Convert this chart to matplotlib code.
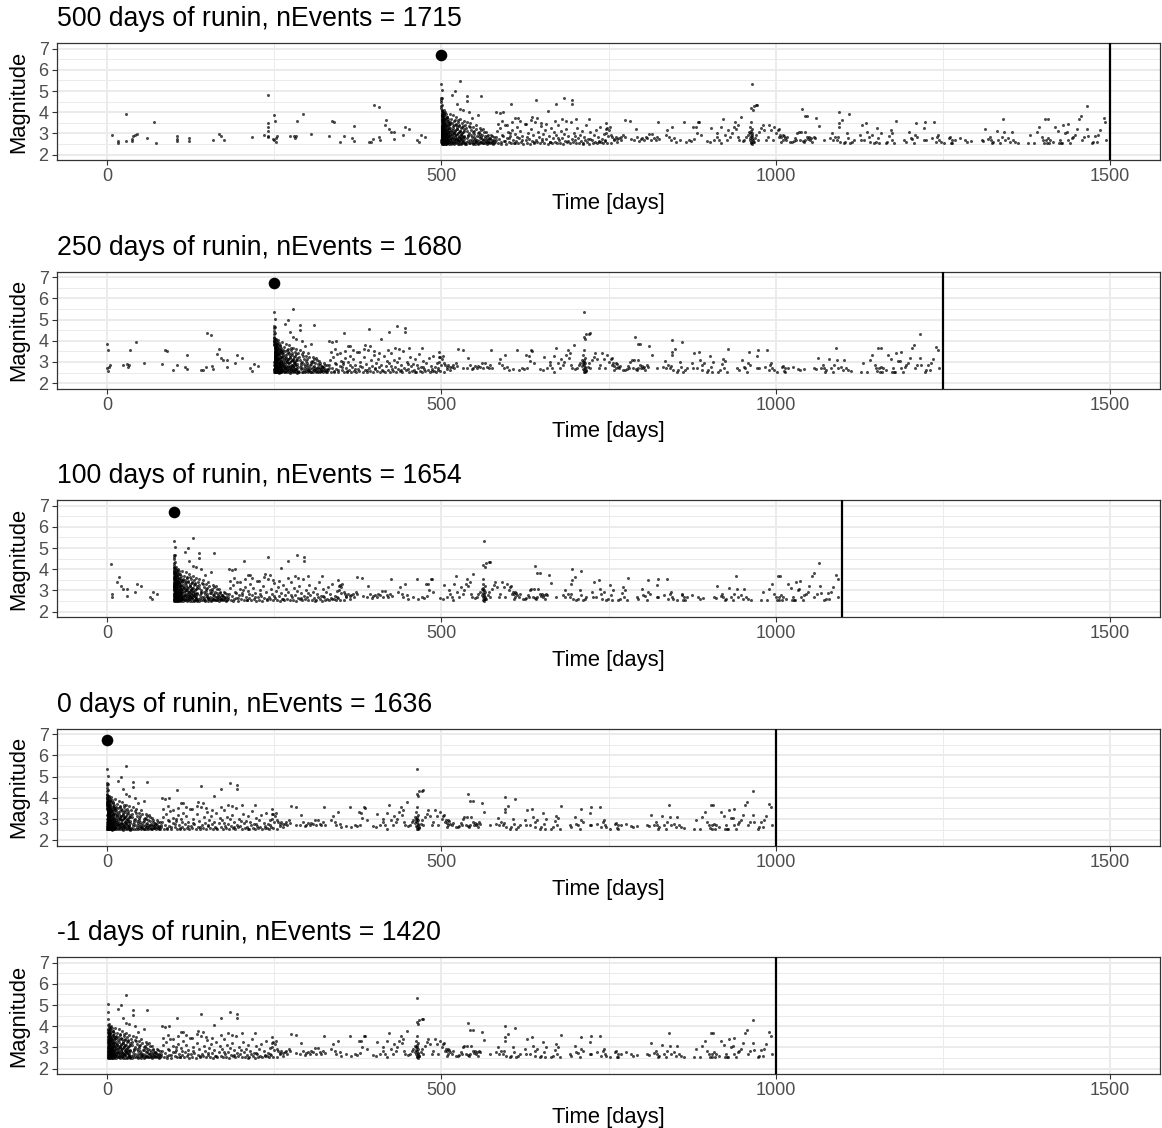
import matplotlib
matplotlib.use("Agg")
import matplotlib.pyplot as plt
import numpy as np

plt.rcParams['font.family'] = ['Liberation Sans', 'DejaVu Sans']

# ---------------- data ----------------
runin_days = [500, 250, 100, 0, -1]
n_events = [1715, 1680, 1654, 1636, 1420]
mainshock_mag = 6.7
window_days = 1000

# background events before the mainshock: (days relative to mainshock, magnitude)
background = [
    (-493, 2.92), (-484, 2.66), (-484, 2.57), (-472, 3.94), (-472, 2.66), (-463, 2.66), (-463, 2.74), (-461, 2.88),
    (-459, 2.92), (-456, 2.97), (-440, 2.80), (-430, 3.55), (-427, 2.57), (-395, 2.86), (-395, 2.74), (-395, 2.65),
    (-378, 2.77), (-378, 2.66), (-342, 2.71), (-333, 2.97), (-330, 2.86), (-325, 2.71), (-284, 2.85), (-265, 2.94),
    (-259, 4.83), (-259, 3.51), (-259, 3.32), (-259, 3.12), (-259, 2.89), (-259, 2.82), (-250, 3.86), (-249, 3.58),
    (-252, 2.74), (-250, 2.71), (-248, 2.58), (-247, 2.77), (-246, 2.86), (-227, 2.86), (-221, 2.89), (-219, 2.77),
    (-217, 2.86), (-216, 3.58), (-207, 3.92), (-195, 2.97), (-168, 2.89), (-164, 3.58), (-160, 3.52), (-152, 2.62),
    (-145, 2.88), (-134, 2.77), (-130, 2.66), (-130, 3.35), (-109, 2.62), (-106, 2.62), (-102, 2.74), (-93, 2.82),
    (-92, 2.69), (-101, 4.35), (-94, 4.25), (-83, 3.62), (-85, 3.38), (-79, 3.20), (-76, 3.08), (-71, 3.08),
    (-71, 2.74), (-58, 2.94), (-55, 3.32), (-49, 3.20), (-36, 2.71), (-33, 2.58), (-31, 2.92), (-25, 2.82),
]

# aftershocks: (days after mainshock, magnitude)
after_first_day = [
    (0.02, 5.34), (0.05, 4.69), (0.08, 4.60), (0.11, 4.48), (0.14, 4.30), (0.17, 4.18), (0.20, 4.12), (0.23, 4.05),
    (0.26, 3.98), (0.29, 3.93), (0.32, 3.87), (0.35, 3.81), (0.38, 3.76), (0.41, 3.70), (0.44, 3.64), (0.47, 3.59),
    (0.50, 3.53), (0.53, 3.48), (0.56, 3.42), (0.59, 3.37), (0.62, 3.31), (0.65, 3.26), (0.68, 3.20), (0.71, 3.15),
    (0.74, 3.09), (0.77, 3.04), (0.80, 2.98), (0.83, 2.93), (0.86, 2.87), (0.89, 2.82), (0.92, 2.76), (0.95, 2.71),
    (0.98, 2.65), (0.10, 2.60), (0.30, 2.55), (0.50, 2.51), (0.70, 2.58), (0.90, 2.63), (0.15, 2.68), (0.45, 2.74),
    (0.75, 2.79), (0.25, 2.85), (0.55, 2.90), (0.85, 2.96), (0.35, 3.02), (0.65, 3.07), (0.95, 3.12), (0.40, 3.18),
    (0.60, 3.24), (0.80, 3.29),
]
after_days_1_3 = [
    (1.1, 5.03), (1.3, 4.65), (1.6, 4.35), (1.2, 4.08), (2.4, 3.97), (1.5, 3.88), (2.8, 3.79), (1.9, 3.71), (1.4, 3.66), (2.2, 3.58),
    (1.7, 3.52), (2.6, 3.45), (1.1, 3.41), (2.0, 3.36), (2.9, 3.30), (1.3, 3.27), (2.5, 3.21), (1.8, 3.17), (2.3, 3.12), (1.2, 3.08),
    (2.7, 3.03), (1.6, 2.99), (2.1, 2.95), (1.4, 2.91), (2.8, 2.88), (1.9, 2.84), (2.4, 2.80), (1.0, 2.77), (2.6, 2.73), (1.5, 2.70),
    (2.2, 2.67), (1.7, 2.63), (2.9, 2.60), (1.3, 2.57), (2.0, 2.54), (2.5, 2.51), (1.8, 2.52), (1.1, 2.56), (2.3, 2.62), (1.6, 2.69),
    (2.7, 2.75), (1.2, 2.83), (2.1, 2.92), (1.9, 3.01), (2.4, 3.14), (1.5, 3.24), (2.8, 3.38), (1.7, 3.49), (2.2, 3.62), (1.4, 3.83),
]
after_days_3_12 = [
    (3.2, 4.10), (5.5, 4.02), (3.8, 3.95), (7.1, 3.90), (4.4, 3.84), (9.0, 3.80), (6.2, 3.74), (3.5, 3.70), (10.5, 3.66), (5.0, 3.62),
    (8.2, 3.58), (4.1, 3.55), (11.4, 3.51), (6.8, 3.48), (3.9, 3.44), (9.7, 3.41), (5.3, 3.38), (7.6, 3.35), (4.7, 3.31), (10.9, 3.28),
    (3.3, 3.26), (8.8, 3.23), (6.0, 3.20), (11.8, 3.17), (4.9, 3.14), (7.3, 3.12), (3.6, 3.09), (9.4, 3.06), (5.8, 3.03), (10.2, 3.01),
    (4.3, 2.98), (8.0, 2.96), (6.5, 2.93), (11.1, 2.91), (3.1, 2.89), (7.9, 2.87), (5.1, 2.84), (9.9, 2.82), (4.6, 2.80), (6.9, 2.78),
    (11.6, 2.76), (3.7, 2.74), (8.5, 2.72), (5.6, 2.70), (10.0, 2.68), (4.0, 2.66), (7.4, 2.64), (9.2, 2.62), (6.3, 2.60), (11.9, 2.58),
    (3.4, 2.56), (8.7, 2.55), (5.2, 2.53), (10.7, 2.52), (4.5, 2.51), (7.0, 2.50), (6.6, 2.51), (9.6, 2.53), (3.0, 2.54), (8.3, 2.57),
    (5.9, 2.59), (11.3, 2.61), (4.2, 2.63), (7.7, 2.67), (10.4, 2.69), (6.1, 2.71), (3.8, 2.75), (9.1, 2.79), (5.4, 2.83), (8.9, 2.86),
    (11.0, 2.90), (4.8, 2.94), (7.2, 2.97), (6.7, 3.00), (10.3, 3.05), (3.2, 3.10), (8.4, 3.15), (5.7, 3.19), (9.5, 3.25), (4.6, 3.30),
    (7.8, 3.36), (11.7, 3.40), (6.4, 3.46), (3.9, 3.53), (9.3, 3.60), (5.0, 3.68), (8.1, 3.76), (4.3, 3.86), (10.8, 3.50), (6.0, 2.53),
]
after_days_12_35 = [
    (16, 4.80), (21, 5.00), (28, 5.49), (23, 4.40), (28, 4.17), (33, 4.10),
    (12.3, 3.92), (14.8, 3.70), (17.5, 3.85), (19.9, 3.62), (22.6, 3.78), (25.1, 3.55), (27.8, 3.68), (30.4, 3.48), (33.2, 3.60), (13.6, 3.44),
    (16.1, 3.50), (18.7, 3.38), (21.3, 3.47), (24.0, 3.31), (26.5, 3.40), (29.2, 3.25), (31.9, 3.36), (34.5, 3.20), (12.9, 3.28), (15.4, 3.18),
    (18.0, 3.24), (20.6, 3.12), (23.3, 3.19), (25.8, 3.08), (28.5, 3.14), (31.1, 3.02), (33.8, 3.10), (13.2, 3.06), (15.9, 2.99), (18.5, 3.04),
    (21.0, 2.93), (23.7, 2.98), (26.2, 2.88), (28.9, 2.95), (31.6, 2.84), (34.2, 2.90), (12.6, 2.86), (15.1, 2.80), (17.8, 2.83), (20.3, 2.75),
    (22.9, 2.79), (25.5, 2.71), (28.1, 2.77), (30.7, 2.68), (33.4, 2.73), (14.0, 2.66), (16.6, 2.70), (19.2, 2.62), (21.8, 2.67), (24.4, 2.59),
    (27.0, 2.64), (29.6, 2.56), (32.3, 2.61), (34.9, 2.55), (13.9, 2.52), (16.4, 2.55), (19.0, 2.51), (21.6, 2.53), (24.2, 2.50), (26.8, 2.52),
    (29.4, 2.51), (32.0, 2.53), (34.7, 2.50), (12.1, 2.58), (14.5, 2.61), (17.1, 2.57), (19.6, 2.65), (22.2, 2.60), (24.8, 2.69), (27.4, 2.63),
    (30.0, 2.72), (32.7, 2.66), (13.4, 2.74), (16.0, 2.78), (18.3, 2.72), (20.9, 2.82), (23.5, 2.76), (26.0, 2.85), (28.7, 2.80), (31.3, 2.89),
    (33.9, 2.83), (12.7, 2.97), (15.6, 2.92), (18.9, 3.00), (22.4, 2.95), (25.3, 3.03), (29.0, 2.98), (32.5, 3.07), (14.3, 3.13), (17.3, 3.09),
    (20.1, 3.16), (23.9, 3.22), (27.3, 3.11), (30.9, 3.29), (16.8, 3.33), (21.5, 3.42), (26.9, 3.34), (13.0, 3.55), (19.4, 3.58), (24.6, 3.64),
]
after_days_35_80 = [
    (38, 4.75), (38, 4.52), (41, 4.00), (55, 3.85), (60, 4.75),
    (35.5, 3.42), (37.9, 3.10), (40.3, 2.86), (42.8, 3.30), (45.2, 2.62), (47.6, 3.05), (50.1, 2.75), (52.5, 3.22), (55.0, 2.55), (57.4, 2.98),
    (59.8, 3.15), (62.3, 2.68), (64.7, 2.90), (67.1, 3.05), (69.6, 2.58), (72.0, 2.80), (74.4, 2.95), (76.9, 2.64), (79.3, 2.85), (36.2, 2.58),
    (38.6, 2.78), (41.1, 3.01), (43.5, 2.54), (45.9, 2.82), (48.4, 2.96), (50.8, 2.52), (53.2, 2.70), (55.7, 2.90), (58.1, 2.53), (60.5, 2.73),
    (63.0, 2.56), (65.4, 2.77), (67.8, 2.52), (70.3, 2.69), (72.7, 2.53), (75.1, 2.71), (77.6, 2.51), (36.9, 3.25), (39.3, 2.66), (41.8, 3.36),
    (44.2, 2.92), (46.6, 2.51), (49.1, 3.12), (51.5, 2.64), (53.9, 2.88), (56.4, 3.06), (58.8, 2.62), (61.2, 2.94), (63.7, 2.71), (66.1, 2.59),
    (68.5, 2.88), (71.0, 2.61), (73.4, 2.74), (75.8, 2.57), (78.3, 2.67), (37.4, 2.52), (39.8, 2.95), (42.2, 2.70), (44.7, 3.16), (47.1, 2.57),
    (49.5, 2.84), (52.0, 2.58), (54.4, 3.02), (56.8, 2.66), (59.3, 2.82), (61.7, 2.54), (64.1, 3.08), (66.6, 2.65), (69.0, 2.95), (71.4, 2.78),
    (74.0, 2.60), (76.3, 2.88), (78.8, 2.55), (38.1, 3.55), (43.0, 3.48), (47.9, 3.30), (51.2, 3.40), (57.9, 3.25), (62.8, 3.20), (46.0, 3.74),
    (40.8, 2.55), (45.5, 2.70), (50.4, 2.60), (54.9, 2.52), (60.0, 2.60), (65.0, 2.53), (70.0, 2.57), (48.8, 2.68), (58.5, 2.77), (68.0, 2.73),
]
after_days_80_250 = [
    (82, 4.00), (87, 3.95), (92, 4.00), (104, 4.38), (110, 3.75), (114, 3.74), (136, 3.78), (141, 4.56), (143, 3.75), (160, 4.07),
    (171, 4.40), (181, 3.68), (184, 4.69), (195, 4.60), (195, 4.40), (201, 3.66), (221, 3.68), (246, 3.48),
    (80.5, 2.62), (82.0, 2.85), (83.7, 3.10), (85.1, 2.55), (86.8, 2.72), (88.2, 3.25), (89.9, 2.58), (91.3, 2.95), (93.0, 2.66), (94.6, 3.38),
    (96.1, 2.52), (97.8, 2.80), (99.2, 3.05), (100.9, 2.61), (102.3, 2.90), (104.0, 2.54), (105.5, 3.18), (107.1, 2.70), (108.6, 2.57), (110.3, 2.98),
    (111.8, 2.63), (113.4, 3.30), (115.0, 2.53), (116.5, 2.78), (118.1, 3.12), (119.7, 2.59), (121.2, 2.88), (122.8, 2.51), (124.4, 3.45), (125.9, 2.68),
    (127.5, 2.56), (129.0, 3.02), (130.6, 2.74), (132.2, 2.52), (133.7, 3.22), (135.3, 2.64), (136.9, 2.92), (138.4, 2.55), (140.0, 3.55), (141.6, 2.71),
    (143.1, 2.58), (144.7, 3.08), (146.3, 2.82), (147.8, 2.53), (149.4, 3.35), (151.0, 2.66), (152.5, 2.96), (154.1, 2.57), (155.6, 3.15), (157.2, 2.75),
    (158.8, 2.52), (160.3, 2.88), (161.9, 2.61), (163.5, 3.28), (165.0, 2.55), (166.6, 2.80), (168.2, 3.05), (169.7, 2.60), (171.3, 2.94), (172.9, 2.53),
    (174.4, 3.42), (176.0, 2.69), (177.6, 2.56), (179.1, 3.10), (180.7, 2.77), (182.3, 2.52), (183.8, 2.99), (185.4, 2.65), (187.0, 3.20), (188.5, 2.58),
    (190.1, 2.86), (191.7, 2.54), (193.2, 3.52), (194.8, 2.72), (196.4, 2.60), (197.9, 3.00), (199.5, 2.67), (201.1, 2.53), (202.6, 3.25), (204.2, 2.79),
    (205.8, 2.57), (207.3, 2.91), (208.9, 2.63), (210.5, 3.14), (212.0, 2.55), (213.6, 2.84), (215.2, 2.70), (216.7, 3.38), (218.3, 2.59), (219.9, 2.76),
    (221.4, 2.52), (223.0, 3.06), (224.6, 2.68), (226.1, 2.56), (227.7, 2.95), (229.3, 2.62), (230.8, 3.18), (232.4, 2.54), (234.0, 2.82), (235.5, 2.66),
    (237.1, 3.30), (238.7, 2.58), (240.2, 2.74), (241.8, 2.53), (243.4, 2.97), (245.0, 2.64), (246.5, 3.22), (248.1, 2.57), (249.7, 2.86), (84.3, 3.45),
    (90.5, 3.60), (98.4, 3.40), (106.2, 3.52), (117.3, 3.58), (126.7, 3.47), (134.5, 3.62), (148.6, 3.50), (156.4, 3.44), (170.5, 3.57), (186.2, 3.60),
    (81.2, 2.70), (88.9, 2.52), (95.3, 2.64), (101.6, 2.77), (109.4, 2.55), (120.5, 2.69), (128.3, 2.83), (139.2, 2.61), (150.2, 2.73), (162.7, 2.58),
    (175.2, 2.81), (189.3, 2.63), (200.3, 2.90), (211.2, 2.52), (222.2, 2.75), (236.3, 2.59), (244.2, 2.70), (92.2, 2.90), (103.1, 3.00), (112.6, 2.85),
]
after_days_250_510 = [
    (247, 3.01), (248, 3.24), (250.5, 3.16), (252, 3.29), (254, 2.93), (255.5, 2.85), (258, 2.75), (260.5, 2.85), (263, 2.75), (265.5, 2.78),
    (268, 2.85), (272, 2.93), (274, 2.82), (254, 2.54), (258, 2.67), (263, 2.62), (269, 2.70), (274.5, 3.63), (282, 3.58), (283, 2.73),
    (288, 2.70), (290.5, 3.20), (293, 2.85), (295.5, 2.65), (298, 2.73), (300.5, 2.80), (303, 2.70), (305.5, 2.82), (308, 2.78), (310.5, 2.96),
    (313, 2.70), (315.5, 2.96), (318, 2.78), (320.5, 2.70), (323, 2.85), (325.5, 2.73), (324, 3.55), (335.5, 2.93), (338, 3.16), (340.5, 2.85),
    (343, 2.70), (345.5, 3.32), (348, 2.78), (350.5, 2.62), (357, 2.67), (363, 3.55), (365.5, 2.62), (370.5, 2.70), (374, 2.65), (378, 2.73),
    (377, 3.32), (380.5, 3.29), (384, 3.55), (385.5, 3.52), (382, 3.04), (388, 2.93), (398, 2.65), (402, 2.62), (404, 3.24), (408, 2.70),
    (412, 3.01), (413, 2.85), (415.5, 2.70), (418, 2.54), (419, 3.29), (422, 3.68), (424, 2.93), (427, 2.70), (429, 3.16), (432, 2.85),
    (434, 3.01), (437, 3.32), (439, 3.55), (440.5, 3.20), (443, 3.40), (444, 2.85), (445.5, 2.70), (448, 3.79), (450.5, 2.65), (453, 2.70),
    (455.5, 2.85), (458, 2.93), (460.5, 3.09), (462, 3.32), (463, 3.55), (464, 5.34), (465.5, 4.10), (467, 4.30), (470.5, 4.33), (472, 4.35),
    (463, 4.19), (462, 3.01), (464, 2.85), (465.5, 2.70), (467, 2.62), (469, 2.78), (470.5, 2.93), (473, 2.70), (475.5, 3.09), (478, 3.24),
    (480.5, 3.40), (483, 3.16), (485.5, 2.70), (488, 2.85), (490.5, 3.40), (493, 3.16), (495.5, 2.70), (498, 3.32), (500.5, 3.01), (503, 3.16),
    (505.5, 2.85), (508, 2.62), (510.5, 2.93), (463, 2.55), (463.5, 2.60), (464.5, 2.75), (462.5, 2.90), (464, 3.00), (463, 3.10), (465, 3.20),
    (464.5, 2.52), (462, 2.68), (466, 2.58), (461, 2.80), (465, 2.95),
]
after_days_510_765 = [
    (504.5, 3.20), (507, 2.93), (508.5, 2.82), (510.5, 2.70), (512, 2.89), (513.5, 2.78), (515.5, 2.70), (517, 2.82), (522, 2.62), (524.5, 2.62),
    (527, 2.65), (529.5, 2.80), (530.5, 2.70), (532, 3.01), (534.5, 3.09), (537, 2.70), (538.5, 3.09), (540.5, 2.65), (542, 2.62), (543.5, 2.70),
    (544.5, 3.09), (547, 2.85), (548.5, 2.73), (550.5, 2.82), (552, 2.70), (553.5, 2.78), (554.5, 2.62), (557, 2.85), (558.5, 2.78), (539.5, 4.17),
    (543.5, 3.83), (547, 3.83), (561, 3.75), (564.5, 3.35), (572, 2.70), (582, 2.78), (584.5, 3.04), (585.5, 2.70), (589.5, 2.85), (592, 2.70),
    (593.5, 2.82), (594.5, 3.32), (595.5, 3.48), (595.5, 4.02), (597, 2.62), (599.5, 3.63), (602, 2.54), (604.5, 2.62), (607, 3.01), (608.5, 2.78),
    (609.5, 3.94), (612, 2.54), (614.5, 2.62), (617, 2.70), (625.5, 2.93), (627, 2.70), (628.5, 3.40), (632, 2.70), (635.5, 3.48), (637, 3.09),
    (639.5, 2.85), (640.5, 2.62), (643.5, 2.93), (647, 2.54), (649.5, 2.62), (652, 3.27), (653.5, 2.78), (654.5, 2.54), (657, 3.01), (664.5, 2.54),
    (667, 2.62), (669.5, 2.89), (672, 3.16), (673.5, 2.70), (674.5, 3.04), (677, 2.54), (679.5, 3.60), (692, 2.70), (694.5, 2.62), (699.5, 3.09),
    (702, 2.78), (704.5, 2.73), (707, 2.54), (708.5, 2.93), (709.5, 3.48), (712, 2.85), (722, 3.27), (723.5, 3.55), (722, 2.70), (724.5, 2.70),
    (733.5, 2.78), (737, 3.55), (739.5, 2.62), (742, 2.85), (743.5, 2.93), (744.5, 2.70), (747, 2.62), (752, 2.54), (759.5, 2.78), (764.5, 2.54),
    (763.5, 2.70),
]
after_days_765_1000 = [
    (760.5, 2.82), (762, 2.57), (768, 2.70), (775.5, 2.78), (784, 2.67), (787, 2.62), (792, 2.65), (808, 2.70), (810.5, 2.65), (813, 3.20),
    (818, 2.73), (820.5, 2.85), (822, 2.70), (824, 2.54), (825.5, 2.62), (830.5, 3.12), (833, 2.70), (835.5, 2.54), (838, 2.85), (840.5, 3.66),
    (842, 3.09), (843, 2.70), (848, 2.78), (850.5, 2.62), (853, 3.09), (855.5, 2.70), (858, 2.62), (863, 2.57), (878, 2.54), (880.5, 2.93),
    (887, 2.54), (890.5, 3.09), (894, 3.32), (898, 2.85), (900.5, 2.70), (902, 2.57), (903, 3.68), (904.5, 2.70), (905.5, 2.54), (907, 3.68),
    (908, 2.78), (909, 2.54), (910.5, 2.70), (915.5, 2.62), (918, 3.32), (923, 3.12), (924, 2.54), (925.5, 2.70), (927, 2.54), (929, 2.54),
    (930.5, 3.41), (933, 3.04), (935.5, 3.06), (937, 3.46), (938, 2.70), (940.5, 2.54), (943, 2.78), (945.5, 2.85), (948, 2.93), (950.5, 3.20),
    (954, 3.68), (957, 3.81), (958, 2.70), (962, 2.85), (965.5, 4.30), (966.5, 3.20), (968, 2.88), (973, 2.54), (975.5, 2.62), (978, 2.88),
    (980.5, 2.62), (983, 2.93), (985.5, 3.16), (990.5, 3.71), (993, 3.55), (994, 2.70),
]

x_ticks = [0, 500, 1000, 1500]
x_minor = [250, 750, 1250]
y_ticks = [2, 3, 4, 5, 6, 7]
y_minor = [2.5, 3.5, 4.5, 5.5, 6.5]

# ---------------- assemble ----------------
aftershocks = (after_first_day + after_days_1_3 + after_days_3_12 + after_days_12_35 + after_days_35_80
               + after_days_80_250 + after_days_250_510 + after_days_510_765 + after_days_765_1000)
as_t = np.array([p[0] for p in aftershocks], dtype=float)
as_m = np.array([p[1] for p in aftershocks], dtype=float)
bg_t = np.array([p[0] for p in background], dtype=float)
bg_m = np.array([p[1] for p in background], dtype=float)

W, H = 1162, 1128
fig = plt.figure(figsize=(W / 100, H / 100), dpi=100)

ax_left, ax_right = 57, 1160
ax_h = 116.7
first_top = 43.3
pitch = 228.5

grid_col = '#EBEBEB'
border_col = '#333333'

for k, (R, n) in enumerate(zip(runin_days, n_events)):
    top = first_top + k * pitch
    ax = fig.add_axes([ax_left / W, 1 - (top + ax_h) / H, (ax_right - ax_left) / W, ax_h / H])
    offset = max(R, 0)
    if R >= 0:
        sel_bg = bg_t >= -R
        xs = np.concatenate([bg_t[sel_bg] + offset, as_t + offset])
        ys = np.concatenate([bg_m[sel_bg], as_m])
    else:
        sel = as_t >= 1.0
        xs = as_t[sel] + offset
        ys = as_m[sel]
    ax.scatter(xs, ys, s=4.8, c='black', alpha=0.7, linewidths=0, zorder=3)
    if R >= 0:
        ax.scatter([offset], [mainshock_mag], s=70, c='black', linewidths=0, zorder=4)
    ax.axvline(offset + window_days, color='black', lw=1.6, zorder=5)

    ax.set_xlim(-75, 1575)
    ax.set_ylim(1.75, 7.25)
    ax.set_xticks(x_ticks)
    ax.set_xticks(x_minor, minor=True)
    ax.set_yticks(y_ticks)
    ax.set_yticks(y_minor, minor=True)
    ax.set_axisbelow(True)
    ax.grid(which='major', color=grid_col, lw=1.4)
    ax.grid(which='minor', color=grid_col, lw=0.7)
    ax.tick_params(which='minor', length=0)
    ax.tick_params(which='major', length=3.6, width=0.8, color=border_col,
                   labelsize=13, labelcolor='#4D4D4D')
    ax.tick_params(axis='x', pad=2.5)
    ax.tick_params(axis='y', pad=2.5)
    for sp in ax.spines.values():
        sp.set_color(border_col)
        sp.set_linewidth(0.9)

    ax.text(0, 1 + 17 / ax_h, f"{R} days of runin, nEvents = {n}", transform=ax.transAxes,
            ha='left', va='baseline', fontsize=19.2, color='black')
    ax.text(0.5, -49 / ax_h, "Time [days]", transform=ax.transAxes,
            ha='center', va='baseline', fontsize=15.8, color='black')
    ax.text((19 - ax_left) / (ax_right - ax_left), 0.5, "Magnitude", transform=ax.transAxes,
            ha='center', va='center', rotation=90, fontsize=15.8, color='black')

fig.savefig("out.png", dpi=100)
